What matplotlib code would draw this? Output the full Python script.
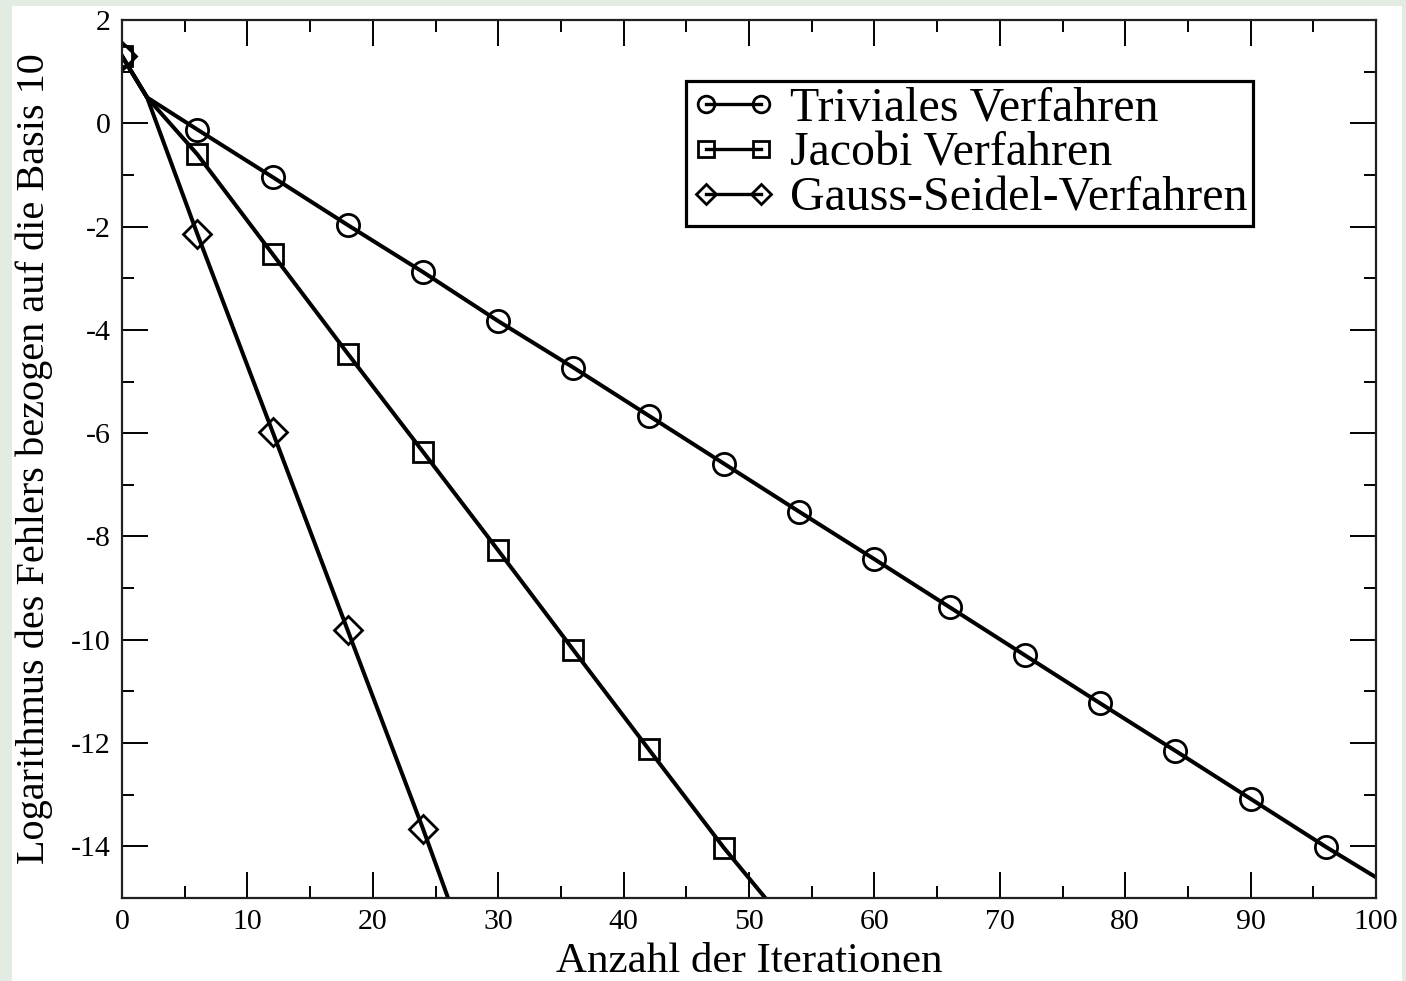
import matplotlib
matplotlib.use("Agg")
import matplotlib.pyplot as plt
from matplotlib.patches import Rectangle
from matplotlib.ticker import MultipleLocator

# values (line vertices, markers every 6 iterations)
triv_x = [0, 2, 6, 12, 18, 24, 30, 36, 42, 48, 54, 60, 66, 72, 78, 84, 90, 96, 100]
triv_y = [1.3, 0.5, -0.12, -1.04, -1.97, -2.88, -3.83, -4.73, -5.66, -6.59,
          -7.52, -8.44, -9.37, -10.30, -11.23, -12.15, -13.08, -14.01, -14.6]

jac_x = [0, 2, 6, 12, 18, 24, 30, 36, 42, 48, 51.3]
jac_y = [1.3, 0.5, -0.60, -2.53, -4.46, -6.36, -8.27, -10.2, -12.12, -14.03, -15.0]

gs_x = [0, 2, 6, 12, 18, 24, 26.0]
gs_y = [1.3, 0.5, -2.14, -5.97, -9.82, -13.66, -15.0]

labels = ["Triviales Verfahren", "Jacobi Verfahren", "Gauss-Seidel-Verfahren"]
markers = ["o", "s", "D"]

plt.rcParams['font.family'] = ['Liberation Serif', 'DejaVu Serif']
plt.rcParams['axes.unicode_minus'] = False

fig = plt.figure(figsize=(14.06, 9.81), dpi=100, facecolor='#e3ece3')
# white page area with the greenish border strip
fig.patches.append(Rectangle((12 / 1406, 0), (1402 - 12) / 1406, 1 - 6 / 981,
                             transform=fig.transFigure, facecolor='white',
                             edgecolor='none', zorder=-10))

ax = fig.add_axes([0.0868, 0.0846, 0.9787 - 0.0868, 0.9796 - 0.0846])
ax.set_zorder(1)

series = [(triv_x, triv_y), (jac_x, jac_y), (gs_x, gs_y)]
msizes = [16, 15, 14]
for (xs, ys), lab, m, ms in zip(series, labels, markers, msizes):
    every = [i for i, v in enumerate(xs) if v % 6 == 0]
    ax.plot(xs, ys, color='black', lw=2.9, marker=m, markevery=every,
            markersize=ms, markerfacecolor='none', markeredgecolor='black',
            markeredgewidth=2.0, label=lab, clip_on=True)

ax.set_xlim(0, 100)
ax.set_ylim(-15, 2)
ax.xaxis.set_major_locator(MultipleLocator(10))
ax.xaxis.set_minor_locator(MultipleLocator(5))
ax.yaxis.set_major_locator(MultipleLocator(2))
ax.yaxis.set_minor_locator(MultipleLocator(1))
ax.tick_params(which='both', direction='in', top=True, right=True,
               labelsize=21.5, width=1.4, color='black')
ax.tick_params(which='major', length=18.5, pad=8)
ax.tick_params(which='minor', length=8.5)
for s in ax.spines.values():
    s.set_linewidth(1.6)
    s.set_color('#202020')

ax.set_xlabel("Anzahl der Iterationen", fontsize=31, labelpad=5)
ax.set_ylabel("Logarithmus des Fehlers bezogen auf die Basis 10", fontsize=29, labelpad=13)

leg = ax.legend(loc='upper right', bbox_to_anchor=(0.902, 0.9305), borderaxespad=0,
                fontsize=34.5, numpoints=2, handlelength=1.75, handletextpad=0.3,
                labelspacing=0.02, borderpad=0.12, fancybox=False, framealpha=1,
                edgecolor='black', markerscale=0.75)
leg.get_frame().set_linewidth(2.3)
for h in leg.legend_handles:
    h.set_linewidth(2.4)
    h.set_markeredgewidth(2.0)

fig.savefig("out.png", dpi=100, facecolor=fig.get_facecolor())
